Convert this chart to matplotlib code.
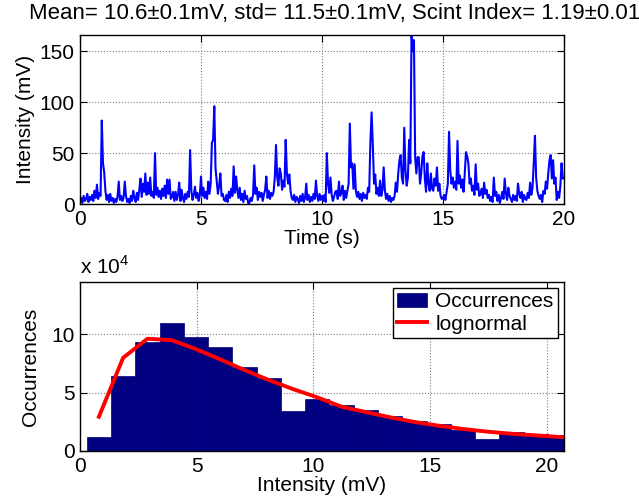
import matplotlib
matplotlib.use('Agg')
import matplotlib.pyplot as plt
import numpy as np
from matplotlib.ticker import FuncFormatter

# --- data ---
# intensity trace, one value every 0.05 s from 0 to 20 s (mV)
intensity_rows = [
    [2, 6, 1, 8, 3, 5, 10, 2, 7, 4, 9, 3, 13, 6, 19, 5, 11, 8, 82, 40],
    [31, 13, 4, 9, 2, 10, 3, 6, 1, 5, 2, 7, 22, 4, 8, 3, 6, 22, 8, 2],
    [5, 1, 8, 3, 13, 6, 2, 11, 4, 14, 25, 7, 20, 12, 30, 9, 21, 10, 26, 8],
    [12, 6, 50, 9, 16, 7, 13, 5, 15, 8, 18, 6, 24, 10, 24, 5, 7, 12, 3, 12],
    [4, 9, 21, 3, 14, 6, 2, 10, 5, 12, 7, 53, 13, 4, 9, 17, 6, 11, 3, 8],
    [27, 8, 16, 6, 12, 5, 22, 10, 20, 60, 63, 96, 35, 23, 10, 18, 30, 8, 10, 4],
    [3, 9, 2, 12, 6, 15, 8, 37, 11, 27, 14, 6, 16, 4, 10, 2, 13, 5, 8, 1],
    [1, 6, 3, 9, 38, 10, 16, 4, 12, 7, 11, 3, 9, 14, 27, 6, 13, 5, 11, 8],
    [12, 26, 58, 26, 18, 35, 30, 14, 23, 17, 63, 30, 20, 29, 13, 6, 4, 9, 2, 7],
    [5, 1, 8, 3, 10, 2, 6, 20, 4, 9, 2, 7, 3, 10, 5, 23, 8, 3, 10, 4],
    [8, 3, 9, 2, 50, 20, 11, 26, 9, 3, 7, 12, 13, 5, 22, 8, 11, 18, 4, 13],
    [6, 13, 20, 79, 36, 40, 15, 39, 13, 7, 12, 5, 10, 3, 11, 6, 9, 5, 16, 12],
    [61, 90, 58, 20, 29, 10, 16, 8, 23, 8, 14, 36, 13, 5, 10, 3, 8, 2, 6, 4],
    [8, 21, 12, 30, 43, 48, 26, 20, 75, 33, 18, 26, 63, 40, 166, 150, 161, 46, 30, 46],
    [46, 20, 30, 47, 51, 25, 12, 40, 20, 13, 30, 15, 13, 25, 18, 36, 13, 20, 8, 5],
    [6, 9, 4, 12, 20, 71, 33, 20, 26, 16, 22, 14, 62, 20, 28, 16, 24, 12, 30, 51],
    [47, 40, 20, 25, 13, 18, 9, 39, 14, 20, 8, 10, 15, 6, 21, 10, 14, 6, 9, 3],
    [7, 2, 26, 8, 12, 3, 9, 1, 6, 12, 5, 25, 10, 4, 16, 8, 5, 2, 9, 4],
    [8, 3, 20, 10, 6, 12, 2, 9, 5, 4, 11, 6, 21, 9, 16, 40, 67, 26, 13, 8],
    [5, 9, 2, 13, 10, 22, 15, 30, 43, 48, 25, 43, 20, 26, 4, 12, 6, 18, 40, 25],
]
intensity_last = [25]
sample_step = 0.05  # s

# histogram of intensities
bin_centers = [0.81, 1.85, 2.89, 3.93, 4.97, 6.01, 7.05, 8.09, 9.13, 10.17,
               11.21, 12.25, 13.29, 14.33, 15.37, 16.41, 17.45, 18.49, 19.53,
               20.57, 21.61]
occurrences = [1.23, 6.40, 9.34, 11.0, 9.74, 8.91, 7.17, 6.26, 3.46, 4.43,
               3.94, 3.49, 3.03, 2.60, 2.30, 1.80, 1.06, 1.60, 1.48, 1.35, 1.20]
lognormal_fit = [2.94, 8.0, 9.63, 9.51, 8.74, 7.86, 6.94, 6.09, 5.31, 4.6,
                 3.8, 3.34, 2.89, 2.49, 2.17, 1.89, 1.66, 1.48, 1.34, 1.2, 1.08]
count_scale = 1e4

title_text = 'Mean= 10.6\u00b10.1mV, std= 11.5\u00b10.1mV, Scint Index= 1.19\u00b10.01'

plt.rcParams['font.family'] = ['Liberation Sans', 'DejaVu Sans']
plt.rcParams['mathtext.fontset'] = 'custom'
plt.rcParams['mathtext.rm'] = 'Liberation Sans'
plt.rcParams['font.size'] = 14

intensity = np.concatenate([np.ravel(intensity_rows), intensity_last]).astype(float)
time = np.arange(len(intensity)) * sample_step

fig = plt.figure(figsize=(6.39, 5.03), dpi=100)
ax1 = fig.add_axes([0.1252, 0.5944, 0.7574, 0.336])
ax2 = fig.add_axes([0.1252, 0.1034, 0.7574, 0.336])


def matlab_style(ax):
    ax.grid(True, linestyle=':', color='#808080', linewidth=0.8)
    ax.set_axisbelow(True)
    ax.tick_params(direction='in', top=True, right=True, length=5,
                   width=0.8, labelsize=15, pad=4)
    for sp in ax.spines.values():
        sp.set_linewidth(1.0)


# top: time series
ax1.plot(time, intensity, color='#0000ff', linewidth=1.5)
ax1.set_xlim(0, 20)
ax1.set_ylim(0, max(intensity))
ax1.set_xticks([0, 5, 10, 15, 20])
ax1.set_yticks([0, 50, 100, 150])
ax1.set_xlabel('Time (s)', labelpad=0, fontsize=15)
ax1.set_ylabel('Intensity (mV)', labelpad=3, fontsize=15)
fig.text(0.523, 0.963, title_text, fontsize=16, ha='center', va='baseline')
matlab_style(ax1)

# bottom: histogram + lognormal fit
centers = np.array(bin_centers)
width = centers[1] - centers[0]
counts = np.array(occurrences) * count_scale
fit = np.array(lognormal_fit) * count_scale
bars = ax2.bar(centers, counts, width=width, color='#000080',
               edgecolor='#000080', linewidth=0.5, label='Occurrences')
line, = ax2.plot(centers, fit, color='#ff0000', linewidth=2.8, label='lognormal')
ax2.set_xlim(0, 20.74)
ax2.set_ylim(0, 14.5e4)
ax2.set_xticks([0, 5, 10, 15, 20])
ax2.set_yticks([0, 5e4, 10e4])
ax2.yaxis.set_major_formatter(FuncFormatter(lambda v, p: '%g' % (v / count_scale)))
ax2.set_xlabel('Intensity (mV)', labelpad=0, fontsize=15)
ax2.set_ylabel('Occurrences', labelpad=8, fontsize=15)
ax2.text(0.0, 1.025, 'x 10$^{4}$', transform=ax2.transAxes, ha='left',
         va='bottom', fontsize=15)
matlab_style(ax2)
leg = ax2.legend([bars, line], ['Occurrences', 'lognormal'], loc='upper right',
                 fancybox=False, framealpha=1, edgecolor='black', fontsize=15,
                 borderpad=0.2, handlelength=1.45, handletextpad=0.4,
                 labelspacing=0.15, borderaxespad=0.3)
leg.get_frame().set_linewidth(1.0)

fig.savefig('out.png', dpi=100)
